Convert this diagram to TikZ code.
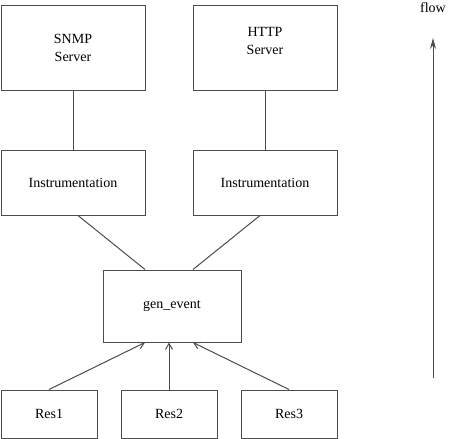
\documentclass[tikz,border=0pt]{standalone}
\usepackage{fontspec}
\setmainfont{Liberation Serif}
\usetikzlibrary{arrows.meta,positioning}

\begin{document}
\begin{tikzpicture}[x=1pt,y=-1pt,
  box/.style={draw=black!70,line width=1pt,inner sep=0pt,align=center,
    font=\fontsize{14}{18}\selectfont},
  wire/.style={draw=black!70,line width=1pt},
  feed/.style={wire,-{Straight Barb[length=6pt,width=7pt]}}]
\useasboundingbox (0,0) rectangle (450,439);

% Boxes
\node[box,minimum width=144pt,minimum height=85pt] (snmp) at (73,47.5) {SNMP\\Server};
\node[box,minimum width=144pt,minimum height=85pt,text depth=14pt] (http) at (265,47.5) {HTTP\\Server};
\node[box,minimum width=144pt,minimum height=65pt] (instl) at (73,182.5) {Instrumentation};
\node[box,minimum width=144pt,minimum height=65pt] (instr) at (265,182.5) {Instrumentation};
\node[box,minimum width=138pt,minimum height=72pt] (gen) at (172,306) {gen\_event};
\node[box,minimum width=96pt,minimum height=48pt] (res1) at (49,414) {Res1};
\node[box,minimum width=96pt,minimum height=48pt] (res2) at (169,414) {Res2};
\node[box,minimum width=96pt,minimum height=48pt] (res3) at (289,414) {Res3};

% Connections
\draw[wire] (snmp.south) -- (instl.north);
\draw[wire] (http.south) -- (instr.north);
\draw[wire] ([xshift=5pt]instl.south) -- ([xshift=-27pt]gen.north);
\draw[wire] ([xshift=-5pt]instr.south) -- ([xshift=21pt]gen.north);

\draw[feed] (res1.north) -- ([xshift=-27pt]gen.south);
\draw[feed] (res2.north) -- ([xshift=-3pt]gen.south);
\draw[feed] (res3.north) -- ([xshift=21pt]gen.south);

% Flow direction
\node[font=\fontsize{14}{18}\selectfont] (flow) at (433,8) {flow};
\coordinate (flowbot) at (433,378);
\coordinate (flowtop) at (433,38);
\draw[wire,-{Stealth[length=11pt,width=6pt]}] (flowbot) -- (flowtop);

\end{tikzpicture}
\end{document}
